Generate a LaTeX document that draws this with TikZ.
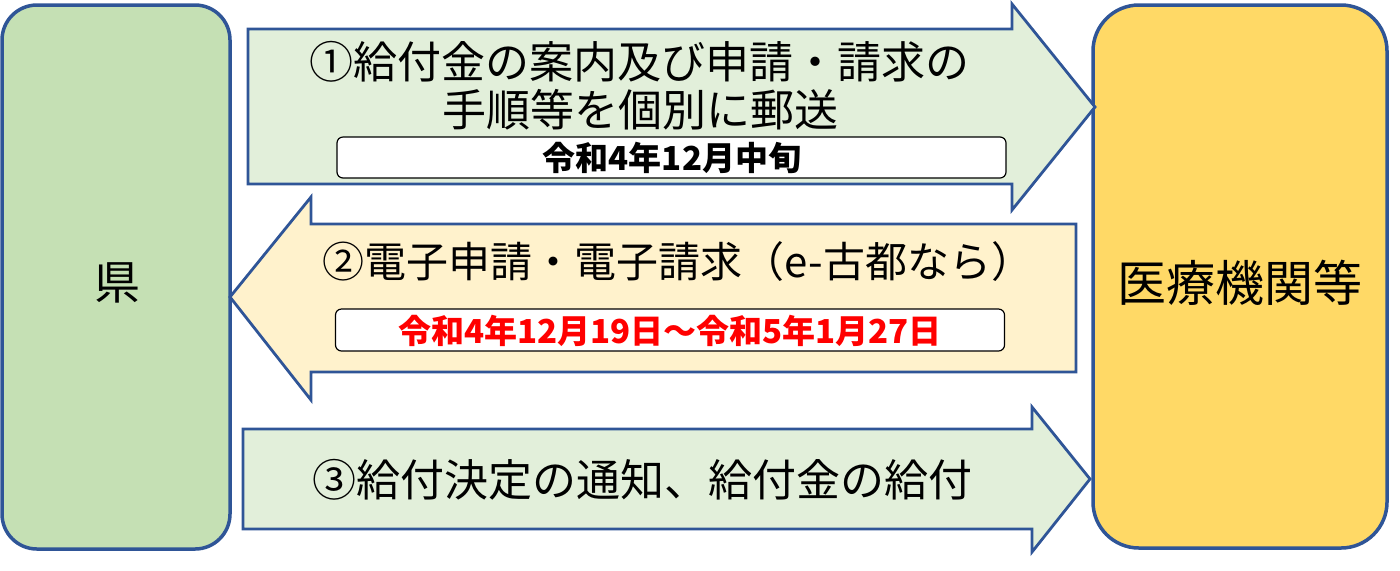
\documentclass[tikz,border=0pt]{standalone}
\usepackage{fontspec}
\setmainfont{Noto Sans CJK JP}
\newfontfamily\jp{Noto Sans CJK JP}
\definecolor{bordblue}{HTML}{2F5597}
\definecolor{kengreen}{HTML}{C5E0B4}
\definecolor{medgold}{HTML}{FFD966}
\definecolor{arrgreen}{HTML}{E2EFDA}
\definecolor{arrcream}{HTML}{FFF2CC}
\definecolor{datered}{HTML}{FF0000}
\tikzset{
  bigbox/.style={draw=bordblue, line width=1.75pt, inner sep=0pt},
  arrowshape/.style={draw=bordblue, line width=1.4pt, line join=miter},
  datebox/.style={draw=black, fill=white, line width=0.6pt, rounded corners=3pt, inner sep=0pt},
  bigtext/.style={font=\jp\fontsize{22pt}{26pt}\selectfont, inner sep=0pt, align=center},
  datetext/.style={font=\jp\bfseries\fontsize{16.5pt}{19pt}\selectfont, inner sep=0pt},
}
\begin{document}
\begin{tikzpicture}[x=0.5pt,y=-0.5pt]
\useasboundingbox (0,0) rectangle (1400,570);
% side boxes
\node[bigbox, fill=kengreen, rounded corners=17.5pt, minimum width=114pt, minimum height=272pt] (ken) at (116,277) {};
\node[bigbox, fill=medgold, rounded corners=23pt, minimum width=147pt, minimum height=271.5pt] (med) at (1240,276.5) {};
\node[bigtext, font=\jp\fontsize{23pt}{27pt}\selectfont] (kenlabel) at (117,283) {県};
\node[font=\jp\fontsize{24.5pt}{28pt}\selectfont, inner sep=0pt] (medlabel) at (1240,283) {医療機関等};
% arrow 1
\draw[arrowshape, fill=arrgreen] (248,29) -- (1012,29) -- (1012,4) -- (1095,107) -- (1012,210) -- (1012,184) -- (248,184) -- cycle;
\node[bigtext] (a1l1) at (639,62) {①給付金の案内及び申請・請求の};
\node[bigtext] (a1l2) at (640,110) {手順等を個別に郵送};
\node[datebox, minimum width=334.5pt, minimum height=20.5pt] (d1) at (671.5,157.5) {};
\node[datetext] (d1t) at (672,158) {令和4年12月中旬};
% arrow 2
\draw[arrowshape, fill=arrcream] (1076,224) -- (311,224) -- (311,197) -- (230,297) -- (311,400) -- (311,372) -- (1076,372) -- cycle;
\node[bigtext, font=\jp\fontsize{21pt}{25pt}\selectfont] (a2l1) at (678,262) {②電子申請・電子請求（e-古都なら）};
\node[datebox, minimum width=334.5pt, minimum height=21pt] (d2) at (670,330) {};
\node[datetext, text=datered] (d2t) at (670,331) {令和4年12月19日～令和5年1月27日};
% arrow 3
\draw[arrowshape, fill=arrgreen] (243,429) -- (1032,429) -- (1032,407) -- (1090,479) -- (1032,552) -- (1032,529) -- (243,529) -- cycle;
\node[bigtext] (a3l1) at (642,480) {③給付決定の通知、給付金の給付};
\end{tikzpicture}
\end{document}
